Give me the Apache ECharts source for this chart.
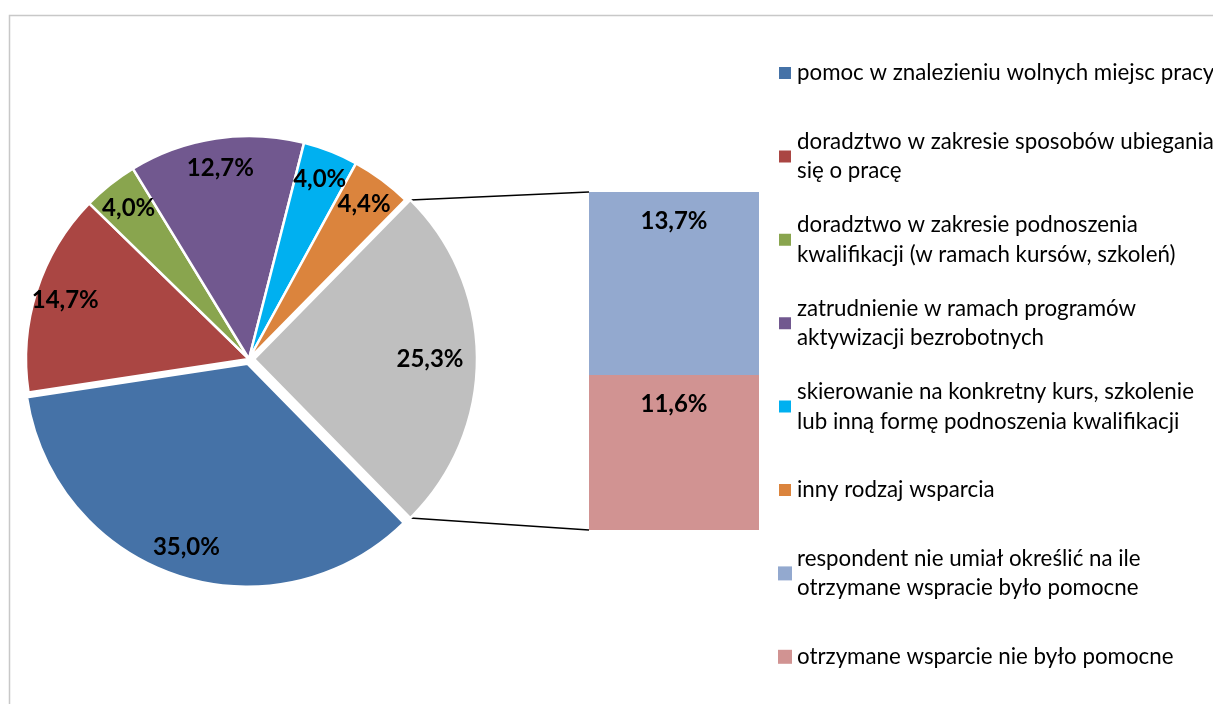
<!DOCTYPE html>
<html>
<head>
<meta charset="UTF-8">
<title>Ocena otrzymanego wsparcia</title>
<style>
  html, body { margin: 0; padding: 0; background: #fff; }
  #chart { width: 1213px; height: 704px; }
</style>
<script src="https://cdn.jsdelivr.net/npm/echarts@6/dist/echarts.min.js"></script>
</head>
<body>
<div id="chart"></div>
<script>
// dane - kolo
var pieNames = [
  'pomoc w znalezieniu wolnych miejsc pracy',
  'doradztwo w zakresie sposobów ubiegania się o pracę',
  'doradztwo w zakresie podnoszenia kwalifikacji (w ramach kursów, szkoleń)',
  'zatrudnienie w ramach programów aktywizacji bezrobotnych',
  'skierowanie na konkretny kurs, szkolenie lub inną formę podnoszenia kwalifikacji',
  'inny rodzaj wsparcia'
];
var pieValues = [35.0, 14.7, 4.0, 12.7, 4.0, 4.4];
var otherName = 'pozostałe';
var otherValue = 25.3;

// dane - slupek
var barNames = [
  'respondent nie umiał określić na ile otrzymane wspracie było pomocne',
  'otrzymane wsparcie nie było pomocne'
];
var barValues = [13.7, 11.6];

// opisy legendy (z podzialem wierszy jak w oryginale)
var legendText = [
  'pomoc w znalezieniu wolnych miejsc pracy',
  'doradztwo w zakresie sposobów ubiegania\nsię o pracę',
  'doradztwo w zakresie podnoszenia\nkwalifikacji (w ramach kursów, szkoleń)',
  'zatrudnienie w ramach programów\naktywizacji bezrobotnych',
  'skierowanie na konkretny kurs, szkolenie\nlub inną formę podnoszenia kwalifikacji',
  'inny rodzaj wsparcia',
  'respondent nie umiał określić na ile\notrzymane wspracie było pomocne',
  'otrzymane wsparcie nie było pomocne'
];

var pieColors = ['#4572A7', '#AA4643', '#89A54E', '#71588F', '#00B0F0', '#DB843D'];
var otherColor = '#BFBFBF';
var barColors = ['#93A9CF', '#D19392'];

var FONT = 'Lato';
var CX = 249, CY = 359, R = 223;
var LH = 29.5;

var chart = echarts.init(document.getElementById('chart'));

var total = otherValue + pieValues.reduce(function (a, b) { return a + b; }, 0);
var startAngle = otherValue / total * 180;

function pct(p) { return Number(p.value).toFixed(1).replace('.', ',') + '%'; }

var pieData = [{ name: otherName, value: otherValue, selected: true, itemStyle: { color: otherColor } }]
  .concat(pieNames.map(function (n, i) {
    return { name: n, value: pieValues[i], selected: i === 0, itemStyle: { color: pieColors[i] } };
  }));

// druga, przezroczysta seria tylko na etykiety (blizej krawedzi kola)
var labelData = [{ value: otherValue, selected: true, label: { padding: [0, 34, 0, 0] } }]
  .concat(pieValues.map(function (v, i) { return { value: v, selected: i === 0 }; }));

var allNames = pieNames.concat(barNames);
var legendData = allNames.map(function (n, i) {
  var lines = legendText[i].split('\n').length;
  return { name: n, textStyle: { padding: lines > 1 ? [LH, 0, 0, 0] : [LH, 0, LH, 0] } };
});

var barLabel = { show: true, position: 'insideTop', distance: 17, formatter: pct,
  fontFamily: FONT, fontWeight: 'bold', fontSize: 24, color: '#000' };

chart.setOption({
  animation: false,
  legend: {
    orient: 'vertical', left: 777, top: CY - 286 - 1.5 * LH, height: 690, padding: 0,
    itemGap: 83.4 - 3 * LH, itemWidth: 14, itemHeight: 14, icon: 'rect', selectedMode: false,
    textStyle: { fontFamily: FONT, fontSize: 22.3, color: '#000', lineHeight: LH, backgroundColor: 'rgba(255,255,255,0)' },
    formatter: function (name) { return legendText[allNames.indexOf(name)]; },
    data: legendData
  },
  grid: { left: 589, top: 192, width: 170, height: 338 },
  xAxis: { type: 'category', data: [''], show: false },
  yAxis: { type: 'value', min: 0, max: otherValue, show: false, splitLine: { show: false } },
  series: [
    {
      type: 'pie', center: [CX, CY], radius: R, startAngle: startAngle, clockwise: true,
      selectedMode: 'multiple', selectedOffset: 5,
      itemStyle: { borderColor: '#fff', borderWidth: 2.5 },
      select: { itemStyle: { borderColor: '#fff', borderWidth: 2.5 } },
      emphasis: { disabled: true },
      label: { show: false }, labelLine: { show: false },
      data: pieData
    },
    {
      type: 'pie', center: [CX, CY], radius: [157, R], startAngle: startAngle, clockwise: true,
      selectedMode: 'multiple', selectedOffset: 5, silent: true,
      itemStyle: { color: 'rgba(0,0,0,0)', borderWidth: 0 },
      select: { itemStyle: { color: 'rgba(0,0,0,0)', borderWidth: 0 } },
      emphasis: { disabled: true },
      label: { show: true, position: 'inside', formatter: pct,
        fontFamily: FONT, fontWeight: 'bold', fontSize: 24, color: '#000' },
      labelLine: { show: false },
      data: labelData
    },
    { name: barNames[1], type: 'bar', stack: 'inne', barWidth: '100%', data: [barValues[1]],
      itemStyle: { color: barColors[1] }, label: barLabel, emphasis: { disabled: true } },
    { name: barNames[0], type: 'bar', stack: 'inne', barWidth: '100%', data: [barValues[0]],
      itemStyle: { color: barColors[0] }, label: barLabel, emphasis: { disabled: true } }
  ]
});

// linie laczace wycinek "pozostale" ze slupkiem
var half = startAngle * Math.PI / 180;
var gx = CX + 5 + R * Math.cos(half);
var gyTop = CY - R * Math.sin(half);
var gyBot = CY + R * Math.sin(half);
var barTop = chart.convertToPixel({ yAxisIndex: 0 }, otherValue);
var barBot = chart.convertToPixel({ yAxisIndex: 0 }, 0);
var barLeft = 589;

chart.setOption({
  graphic: [
    { type: 'rect', shape: { x: 9.5, y: 15.5, width: 1300, height: 800 },
      style: { fill: 'none', stroke: '#c8c8c8', lineWidth: 1.5 }, silent: true },
    { type: 'line', shape: { x1: gx, y1: gyTop, x2: barLeft, y2: barTop },
      style: { stroke: '#000', lineWidth: 1.5 }, silent: true },
    { type: 'line', shape: { x1: gx, y1: gyBot, x2: barLeft, y2: barBot },
      style: { stroke: '#000', lineWidth: 1.5 }, silent: true }
  ]
});
</script>
</body>
</html>
